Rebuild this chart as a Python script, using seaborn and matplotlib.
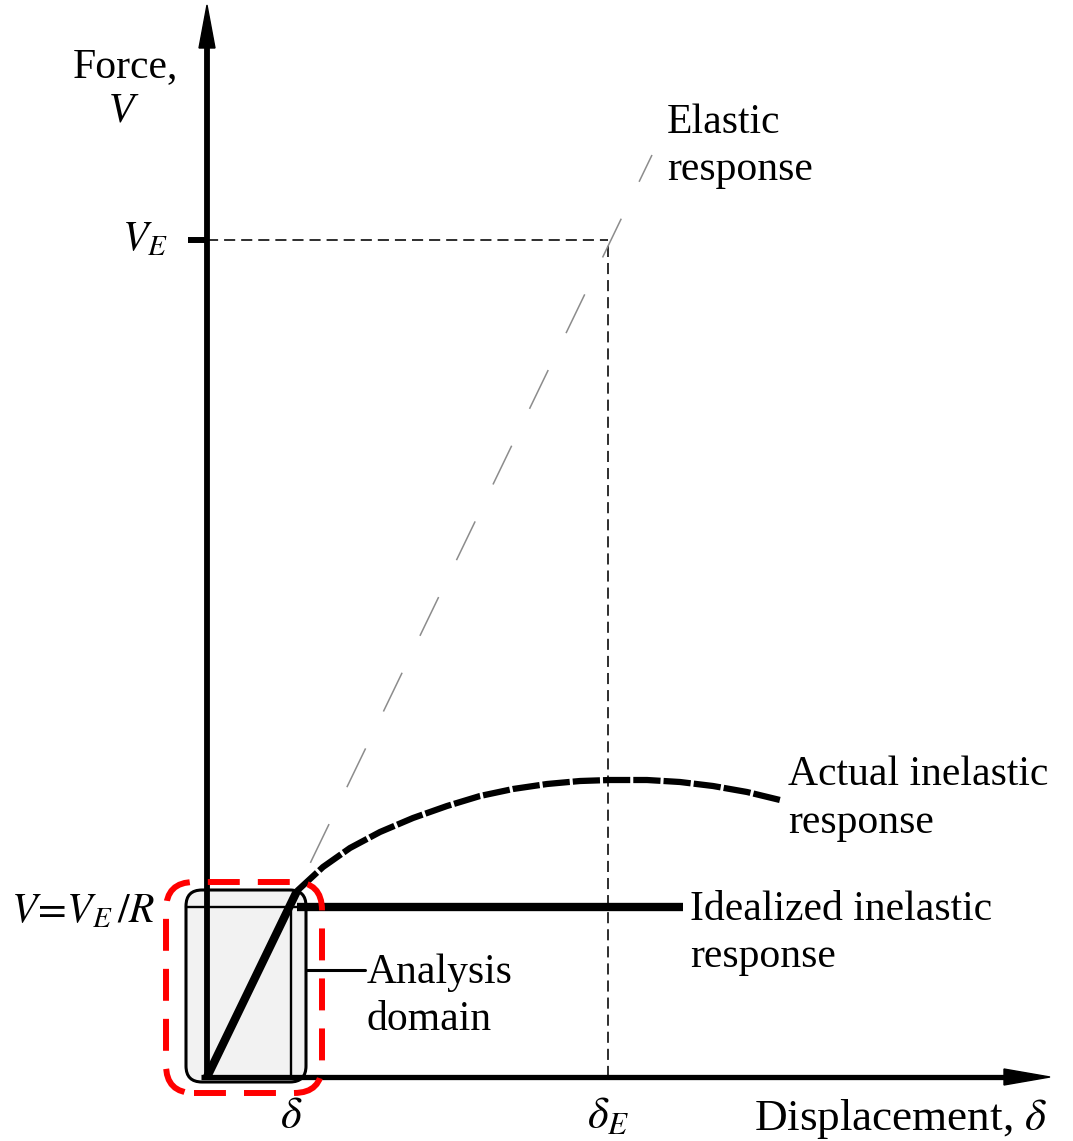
import numpy as np
import pandas as pd
import matplotlib.pyplot as plt
import seaborn as sns
from matplotlib.patches import FancyBboxPatch

# --- data (displacement / force in drawing units, origin at the axes corner) ---
delta_E = 401          # elastic displacement demand
V_E = 837              # elastic force demand
delta_y = 84           # design displacement
V_design = 170         # V = V_E / R
yield_pt = (90, 186)   # where elastic branch leaves the idealized line

elastic_x = [0, 445]
elastic_y = [0, 922]

actual_x = [90, 116, 143, 173, 206, 240, 273, 306, 340, 373, 403, 440, 473, 506, 540, 573]
actual_y = [186, 210, 229, 245, 259, 271, 281, 288, 293, 296, 297, 297, 295, 291, 285, 277]

ideal_x = [90, 476]
ideal_y = [V_design, V_design]

sns.set_theme(style="white")
plt.rcParams['font.family'] = ['Liberation Serif', 'DejaVu Serif']
plt.rcParams['mathtext.fontset'] = 'stix'
plt.rcParams['lines.scale_dashes'] = False

fig = plt.figure(figsize=(10.73, 11.41), dpi=100)
ax = fig.add_axes([0, 0, 1, 1])
ax.set_xlim(-207, 866)
ax.set_ylim(-64, 1077)
ax.axis('off')

# analysis domain box (grey, rounded)
box = FancyBboxPatch((-21, -5), 120, 192, boxstyle='round,pad=0,rounding_size=16',
                     facecolor='#f2f2f2', edgecolor='black', lw=2.2, zorder=1)
ax.add_patch(box)

# axes with arrow heads
ax.plot([0, 0], [0, 1030], color='black', lw=4.2, solid_capstyle='butt', zorder=5)
ax.plot([-6, 798], [0, 0], color='black', lw=3.8, solid_capstyle='butt', zorder=5)
ax.fill([-8, 8, 0], [1029, 1029, 1072], color='black', zorder=5)
ax.fill([797, 797, 843], [8, -8, 0], color='black', zorder=5)

# V_E tick and dashed guides
ax.plot([-19, 0], [V_E, V_E], color='black', lw=4.3, solid_capstyle='butt', zorder=5)
ax.plot([0, delta_E], [V_E, V_E], color='black', lw=1.15, linestyle=(0, (8, 4.3)), zorder=2)
ax.plot([delta_E, delta_E], [0, V_E], color='black', lw=1.15, linestyle=(0, (8, 4.3)), zorder=2)

# elastic response (thin grey dashes)
sns.lineplot(x=elastic_x, y=elastic_y, ax=ax, color='#8c8c8c', lw=1.1,
             linestyle=(10.3, (31, 29.5)), zorder=2)

# actual inelastic response (thick dashed curve)
act = pd.DataFrame({'d': actual_x, 'v': actual_y})
sns.lineplot(data=act, x='d', y='v', ax=ax, sort=False, estimator=None, color='black',
             lw=4.5, linestyle=(0, (19.6, 2.2)), zorder=4)

# idealized inelastic response
sns.lineplot(x=[0, yield_pt[0]], y=[0, yield_pt[1]], ax=ax, color='black', lw=6,
             solid_capstyle='butt', zorder=4)
sns.lineplot(x=ideal_x, y=ideal_y, ax=ax, color='black', lw=6, solid_capstyle='butt', zorder=4)

# thin design rectangle and leader
ax.plot([-21, yield_pt[0]], [V_design, V_design], color='black', lw=1.7, zorder=3)
ax.plot([delta_y, delta_y], [0, V_design], color='black', lw=1.7, zorder=3)
ax.plot([100, 158], [107, 107], color='black', lw=2.2, zorder=3)

# red dashed highlight
red = FancyBboxPatch((-41, -16), 156, 211, boxstyle='round,pad=0,rounding_size=28',
                     facecolor='none', edgecolor='#ff0000', lw=4.3,
                     linestyle=(0, (23, 13)), zorder=6)
ax.add_patch(red)

fs = 30


def label(x, y, s, ha='left', size=fs, **kw):
    ax.text(x, y, s, ha=ha, va='baseline', fontsize=size, color='black', zorder=7, **kw)


label(-82, 1000, 'Force,', ha='center')
label(-85, 955, 'V', ha='center', fontstyle='italic')
label(-39, 827, '$V_E$', ha='right')
label(-52, 155, r'$V\!=\!V_E\,/R$', ha='right')
label(delta_y, -51, r'$\delta$', ha='center', size=32)
label(delta_E, -51, r'$\delta_E$', ha='center', size=32)
label(840, -53, r'Displacement, $\delta$', ha='right', size=32.5)

label(460, 944, 'Elastic')
label(460, 897, 'response')
label(581, 292, 'Actual inelastic')
label(581, 244, 'response')
label(483, 157, 'Idealized inelastic')
label(483, 110, 'response')
label(160, 94, 'Analysis')
label(160, 47, 'domain')

fig.savefig('out.png', dpi=100, facecolor='white')
